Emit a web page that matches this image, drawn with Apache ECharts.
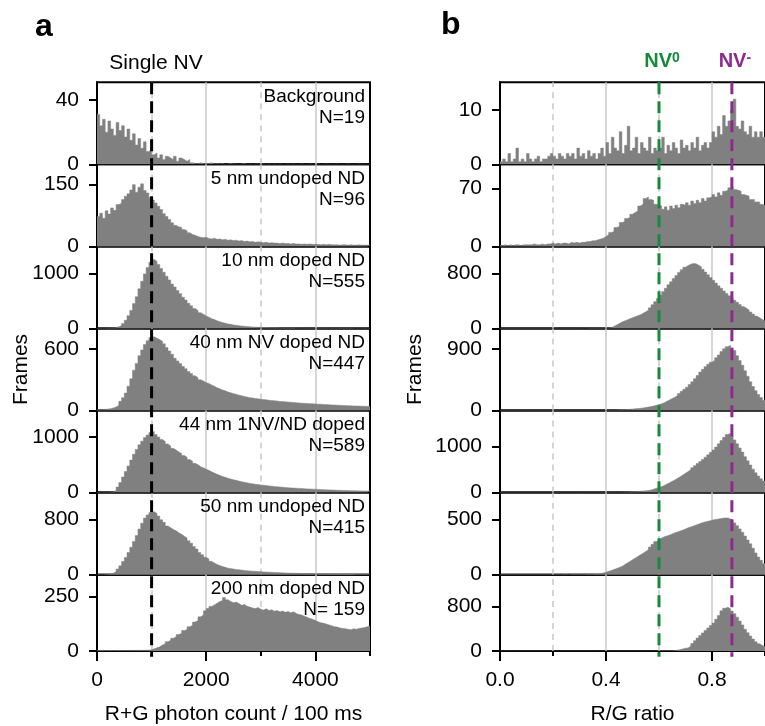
<!DOCTYPE html>
<html><head><meta charset="utf-8">
<script src="https://cdn.jsdelivr.net/npm/echarts@6/dist/echarts.min.js"></script>
<style>html,body{margin:0;padding:0;background:#fff}#c{width:765px;height:726px}</style>
</head><body><div id="c"></div>
<script>
// ---------- DATA ----------
const panelLabelsA = ["Background","5 nm undoped ND","10 nm doped ND","40 nm NV doped ND","44 nm 1NV/ND doped","50 nm undoped ND","200 nm doped ND"];
const panelCountsA = ["N=19","N=96","N=555","N=447","N=589","N=415","N= 159"];
const yTicksA = [40,150,1000,600,1000,800,250];
const yMaxA = [51,198,1491,797,1480,1193,351];
const yTicksB = [10,70,800,900,1000,500,800];
const yMaxB = [15.1,99.5,1193,1196,1783,745,1375];
const xMajorA = [0,2000,4000], xMinorA = [1000,3000,5000];
const xMajorB = [0,0.4,0.8], xMinorB = [0.2,0.6,1.0];
const gridSolidA = [2000,4000], gridDashedA = [1000,3000];
const gridSolidB = [0.4,0.8], gridDashedB = [0.2,0.6];
const binWidthA = 50, binWidthB = 0.01, xMaxA = 5000, xMaxB = 1.0;
const singleNV = 1000, nv0 = 0.6, nvMinus = 0.875;

// Panel a histograms (bins of 50 counts, 0..5000)
const histA1 = [31,24,28,20,27,22,18,26,21,24,17,22,15,19,12,16,10,14,8,9,6,7,4,6,3,5,4,3,5,2,4,3,2,3,1,0.5,0.5,1,0.5,0.5,0.5,1,0.3,0.5,0.3,0.5,0,0.3,0.5,0.3,0.3,0,0.3,0.5,0,0.3,0,0.3,0.3,0,0.3,0,0.3,0,0.3,0,0.3,0,0,0.3,0,0.3,0,0,0.3,0,0,0.3,0,0,0.3,0,0,0.3,0,0,0,0.3,0,0,0,0.3,0,0,0,0.3,0,0,0,0];
const histA2 = [72,80,68,86,78,93,87,101,104,113,121,127,136,149,131,143,151,135,129,118,112,105,97,89,79,72,65,57,51,47,46,41,38,33,29,27,24,22,21,22,19,18,20,17,18,16,17,15,16,14,15,13,14,12,13,11,12,10,11,10,9,10,8,9,8,8,7,8,7,7,6,7,6,6,5,6,5,6,5,5,5,4,5,4,5,4,4,4,3,4,4,3,4,3,3,4,3,3,3,3];
const histA3 = [0,0,1,2,4,8,15,31,54,92,148,232,328,452,578,722,858,992,1108,1202,1252,1218,1163,1088,1022,948,882,808,752,688,632,568,517,458,412,363,327,288,259,229,206,179,161,139,123,107,96,83,75,64,57,51,44,40,35,31,28,25,22,20,18,16,15,13,12,11,10,9,9,8,7,7,6,6,5,5,5,4,4,4,4,3,3,3,3,2,2,2,2,2,2,2,2,1,1,1,1,1,1,1];
const histA4 = [8,10,12,14,18,25,35,52,90,125,170,236,308,392,458,532,588,642,678,708,716,702,688,672,648,612,578,547,508,482,456,428,406,379,359,337,319,299,286,271,263,247,236,221,211,199,191,179,173,164,158,149,144,136,131,125,122,116,114,109,107,104,100,97,95,92,89,87,85,82,80,78,76,74,72,70,69,67,66,64,62,61,59,58,56,55,54,52,51,50,48,47,46,45,44,43,42,41,40,40];
const histA5 = [0,1,2,4,8,10,40,100,180,280,380,482,588,692,778,862,928,992,1038,1082,1100,1048,1002,958,922,878,842,798,767,733,706,668,637,598,566,528,502,468,446,419,401,374,352,329,311,289,276,259,246,231,221,207,197,185,177,166,161,151,146,137,133,127,121,116,111,106,102,97,93,89,85,82,79,76,73,70,67,64,62,60,58,55,53,51,49,47,45,43,41,40,38,37,35,34,32,31,30,29,28,27];
const histA6 = [0,0,1,3,8,20,45,82,128,192,248,322,398,482,568,662,748,822,868,902,915,888,852,798,762,708,682,658,637,608,587,558,532,493,457,408,372,323,291,253,226,194,171,149,133,117,107,95,89,81,76,71,66,62,58,54,51,48,45,43,40,38,36,34,32,30,28,27,25,24,22,21,20,19,18,17,16,16,15,14,14,13,12,12,11,11,10,10,9,9,9,8,8,8,7,7,7,7,6,6];
const histA7 = [2,3,2,2,3,2,2,3,2,3,2,3,2,3,3,2,3,4,4,6,10,15,19,28,33,43,49,59,65,76,81,94,99,112,118,133,140,157,166,185,195,205,212,220,228,232,246,236,228,222,225,218,210,214,206,202,198,195,200,192,188,194,186,190,183,186,180,184,178,182,176,180,172,168,165,160,155,150,146,140,135,130,128,124,120,116,112,110,106,104,102,100,98,102,100,104,106,108,112,114];

// Panel b histograms (bins of 0.01, 0..1.0)
const histB1 = [0.5,1,0.5,2,0.5,1,3,0.5,1,0.5,2,1,0.5,1,1.5,0.5,1,1,1.5,2,1.5,1,2,1.5,1,2,1.5,2,1,3,1.5,2,1,2.5,1.5,2,1,2,3,1.5,4,2,5,3,2.5,6,2,3.5,7,2.5,3,5,2,4,3,2.5,5,2,3,2.5,3,5,2,3.5,2.5,4,3,2,4.5,3,3.5,2.5,4,3,5,2.5,3.5,4,3,4,6,5,7,5.5,9,7,8,10,12,7,6.5,8,6,5.5,7,5,6,5,6,5];
const histB2 = [1,2,1,2,1,2,2,1,2,2,2,2,3,2,2,3,2,3,3,4,3,4,3,4,4,3,5,4,5,4,5,5,6,6,7,7,8,9,10,12,14,17,18,23,24,29,30,34,35,39,41,43,49,51,58,60,57,56,51,50,49,45,48,44,49,46,50,47,51,50,53,50,55,52,56,53,58,55,59,60,63,60,65,62,67,68,71,72,69,68,67,63,62,61,57,57,54,54,51,50];
const histB3 = [0,0,0,0,0,0,0,0,0,0,0,0,0,0,0,0,0,0,0,0,0,0,0,0,0,0,0,0,0,0,1,1,1,2,2,2,3,3,4,4,5,15,30,50,72,95,110,125,140,155,170,185,200,220,242,266,300,345,390,435,485,535,585,635,680,727,770,815,855,890,915,935,945,940,920,896,860,820,780,740,700,660,620,585,545,510,475,445,410,380,350,320,295,270,240,210,180,155,130,110];
const histB4 = [0,0,0,0,0,0,0,0,0,0,0,0,0,0,0,0,0,0,0,0,1,0,1,1,0,1,1,1,1,1,1,1,1,2,1,2,2,2,2,2,3,4,5,6,8,10,12,15,18,21,25,29,33,38,44,50,58,67,77,87,98,115,135,155,175,195,220,250,280,310,340,380,420,465,510,560,600,640,675,705,730,770,810,860,900,930,950,915,875,800,730,660,580,500,420,350,290,235,190,150];
const histB5 = [0,0,0,0,0,0,0,0,0,0,0,0,0,0,0,0,0,0,0,0,0,0,0,0,0,0,0,0,0,0,1,0,1,1,1,1,1,1,2,2,2,2,3,3,3,4,6,9,13,18,20,25,30,35,40,43,55,75,95,112,130,155,185,215,245,276,310,345,385,420,456,495,540,585,630,674,720,770,820,875,928,990,1060,1130,1200,1260,1290,1230,1145,1060,970,880,780,690,600,510,430,360,300,250];
const histB6 = [0,0,0,0,0,0,0,0,0,0,0,0,0,0,0,0,0,0,0,0,0,1,0,1,1,0,1,1,1,1,2,2,3,3,4,5,7,10,15,22,30,38,46,55,65,75,90,105,120,135,150,165,180,195,210,227,250,275,300,318,333,345,352,360,370,380,388,397,405,415,425,433,442,451,460,470,476,482,488,494,500,504,508,512,515,515,505,490,470,445,415,385,350,315,280,240,197,160,130,100];
const histB7 = [0,0,0,0,0,0,0,0,0,0,0,0,0,0,0,0,0,0,0,0,0,0,0,0,0,0,0,0,0,0,0,0,0,0,0,0,0,0,0,0,1,0,1,1,1,1,1,1,1,1,1,1,2,1,2,2,2,2,2,3,3,3,3,4,4,8,15,25,38,50,56,90,135,185,235,280,325,370,415,460,503,570,640,727,770,790,760,720,671,610,540,470,391,330,270,215,168,130,100,75];

const histsA = [histA1,histA2,histA3,histA4,histA5,histA6,histA7];
const histsB = [histB1,histB2,histB3,histB4,histB5,histB6,histB7];

// ---------- LAYOUT / STYLE ----------
const TOP = 82.3, H = 82.06, NP = 7;
const FONT = '"Liberation Sans", Arial, sans-serif';
const GRAY = '#808080', GRID = '#c8c8c8', GREEN = '#178a3a', PURPLE = '#8e2a8e';

const panels = [
  {left: 97, width: 273, xMax: xMaxA, binW: binWidthA, hists: histsA, yTicks: yTicksA, yMax: yMaxA,
   majors: xMajorA, minors: xMinorA, gSolid: gridSolidA, gDashed: gridDashedA,
   xName: 'R+G photon count / 100 ms', fmt: v => String(v), nameGap: 65},
  {left: 500, width: 273, xMax: xMaxB, binW: binWidthB, hists: histsB, yTicks: yTicksB, yMax: yMaxB,
   majors: xMajorB, minors: xMinorB, gSolid: gridSolidB, gDashed: gridDashedB,
   xName: 'R/G ratio', fmt: v => v.toFixed(1), nameGap: 74}
];

const grid = [], xAxis = [], yAxis = [], series = [];
const firstX = [];
panels.forEach((p, pi) => {
  for (let i = 0; i < NP; i++) {
    const gi = grid.length;
    const bottom = i === NP - 1;
    grid.push({left: p.left, width: p.width, top: TOP + i * H, height: H, show: true,
      borderColor: '#000', borderWidth: 2, backgroundColor: 'transparent'});
    const xi = xAxis.length;
    if (i === 0) firstX.push(xi);
    xAxis.push({type: 'value', gridIndex: gi, min: 0, max: p.xMax, position: 'bottom',
      axisLine: {show: false},
      axisTick: {show: bottom, customValues: p.majors, length: 10, lineStyle: {color: '#000', width: 2}},
      axisLabel: {show: bottom, customValues: p.majors, formatter: p.fmt, margin: 19,
        fontSize: 21, color: '#000', fontFamily: FONT},
      splitLine: {show: false},
      name: bottom ? p.xName : '', nameLocation: 'middle', nameGap: 53,
      nameTextStyle: {fontSize: 21, color: '#000', fontFamily: FONT}});
    if (bottom) {
      xAxis.push({type: 'value', gridIndex: gi, min: 0, max: p.xMax, position: 'bottom',
        axisLine: {show: false},
        axisTick: {show: true, customValues: p.minors, length: 5, lineStyle: {color: '#000', width: 2}},
        axisLabel: {show: false}, splitLine: {show: false}});
    }
    const yi = yAxis.length;
    yAxis.push({type: 'value', gridIndex: gi, min: 0, max: p.yMax[i],
      axisLine: {show: true, lineStyle: {color: '#000', width: 2}},
      axisTick: {show: true, customValues: [0, p.yTicks[i]], length: 8, lineStyle: {color: '#000', width: 2}},
      axisLabel: {customValues: [0, p.yTicks[i]], formatter: v => String(v), margin: 18, fontSize: 21, color: '#000', fontFamily: FONT},
      splitLine: {show: false},
      name: i === 3 ? 'Frames' : '', nameLocation: 'middle', nameRotate: 90, nameGap: p.nameGap,
      nameTextStyle: {fontSize: 21, color: '#000', fontFamily: FONT}});
    const vals = p.hists[i];
    const data = vals.map((v, k) => [Math.round(k * p.binW * 1000) / 1000, v]);
    data.push([p.xMax, vals[vals.length - 1]]);
    const ml = [];
    p.gSolid.forEach(v => ml.push({xAxis: v, lineStyle: {color: GRID, width: 1.5, type: 'solid'}}));
    p.gDashed.forEach(v => ml.push({xAxis: v, lineStyle: {color: GRID, width: 1.5, type: [6, 5]}}));
    series.push({type: 'line', xAxisIndex: xi, yAxisIndex: yi, step: 'end', symbol: 'none',
      lineStyle: {color: GRAY, width: 0.5}, areaStyle: {color: GRAY, opacity: 1},
      data: data, z: 3, animation: false, silent: true,
      markLine: {silent: true, symbol: 'none', z: 1, label: {show: false}, animation: false, data: ml}});
  }
});

const chart = echarts.init(document.getElementById('c'), null, {renderer: 'canvas'});
chart.setOption({backgroundColor: '#fff', animation: false, grid, xAxis, yAxis, series});

// Overlay lines & texts (positions from the library's scales)
const yTop = TOP, yBot = TOP + NP * H;
const xs = chart.convertToPixel({xAxisIndex: firstX[0]}, singleNV);
const xg = chart.convertToPixel({xAxisIndex: firstX[1]}, nv0);
const xp = chart.convertToPixel({xAxisIndex: firstX[1]}, nvMinus);
const g = [];
function vline(x, color) {
  g.push({type: 'line', z: 50, silent: true, shape: {x1: x, y1: yTop, x2: x, y2: yBot},
    style: {stroke: color, lineWidth: 3, lineDash: [12, 7]}});
}
vline(xs, '#000'); vline(xg, GREEN); vline(xp, PURPLE);
const rightA = panels[0].left + panels[0].width - 5;
for (let i = 0; i < NP; i++) {
  const t = TOP + i * H;
  g.push({type: 'text', z: 60, silent: true, style: {text: panelLabelsA[i], x: rightA, y: t + 14,
    align: 'right', verticalAlign: 'middle', fontSize: 19, fontFamily: FONT, fill: '#000'}});
  g.push({type: 'text', z: 60, silent: true, style: {text: panelCountsA[i], x: rightA, y: t + 35,
    align: 'right', verticalAlign: 'middle', fontSize: 19, fontFamily: FONT, fill: '#000'}});
}
g.push({type: 'text', silent: true, style: {text: 'Single NV', x: 156, y: 63, align: 'center', verticalAlign: 'middle',
  fontSize: 21, fontFamily: FONT, fill: '#000'}});
g.push({type: 'text', silent: true, style: {text: 'a', x: 35, y: 27, align: 'left', verticalAlign: 'middle',
  fontSize: 32, fontWeight: 'bold', fontFamily: FONT, fill: '#000'}});
g.push({type: 'text', silent: true, style: {text: 'b', x: 441, y: 25, align: 'left', verticalAlign: 'middle',
  fontSize: 32, fontWeight: 'bold', fontFamily: FONT, fill: '#000'}});
function nvLabel(x, sup, color) {
  g.push({type: 'text', silent: true, style: {text: '{m|NV}{s|' + sup + '}', x: x + 3, y: 61, align: 'center', verticalAlign: 'middle',
    rich: {m: {fontSize: 20, fontWeight: 'bold', fontFamily: FONT, fill: color, verticalAlign: 'bottom'},
           s: {fontSize: 14, fontWeight: 'bold', fontFamily: FONT, fill: color, verticalAlign: 'top'}}}});
}
nvLabel(xg, '0', GREEN); nvLabel(xp, '-', PURPLE);
chart.setOption({graphic: g});
</script></body></html>
